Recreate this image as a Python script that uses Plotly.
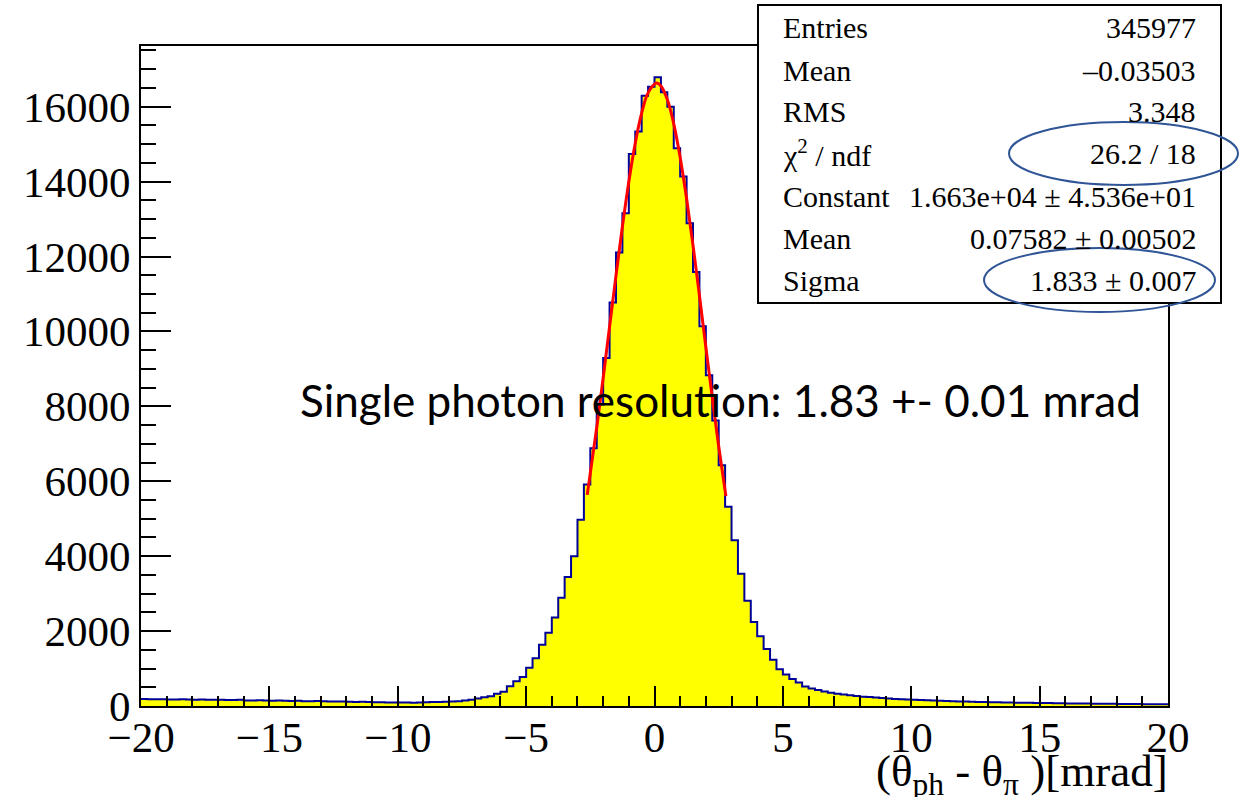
import plotly.graph_objects as go

# ---------------- data ----------------
x_min, x_max, bin_width = -20.0, 20.0, 0.25

# counts per 0.25-mrad bin
left_tail = [185, 180, 178, 182, 176, 172, 178, 174, 170, 175, 168, 165,
             170, 162, 158, 165, 150, 145, 155, 148, 140, 145, 138, 135,
             138, 130, 128, 132, 125, 122, 118, 120, 115, 110, 112, 105,
             100, 98, 95, 92, 95, 92, 90, 93, 100, 105, 108, 112,
             120, 130, 145, 165]                      # -20 .. -7
left_core = [197, 232, 258, 330, 382, 525, 663, 773, 1024, 1277, 1636, 1957,
             2365, 2890, 3445, 4000, 4970, 5912, 6880, 8050, 9290, 10775,
             12108, 13158, 14740, 15335, 16295, 16535]  # -7 .. 0
right_core = [16785, 16385, 16000, 14890, 14135, 12890, 11585, 10135, 8830,
              7620, 6430, 5320, 4425, 3530, 2810, 2245, 1865, 1520, 1235,
              980, 838, 720, 625, 518, 465, 424, 385, 355, 330]  # 0 .. 7.25
right_tail = [310, 290, 270, 250, 238, 225, 212, 200, 190, 182, 175,
              168, 160, 152, 146, 140, 134, 128, 122, 118, 114, 110, 106,
              102, 99, 96, 93, 90, 88, 85, 82, 80, 77, 74, 72,
              70, 68, 66, 64, 62, 60, 58, 57, 56, 54, 52, 51,
              50, 48, 47, 46]                         # 7.25 .. 20

# Gaussian fit curve points
fit_x = [-2.62, -2.25, -2.0, -1.75, -1.5, -1.25, -1.0, -0.75, -0.5, -0.25,
         0.076, 0.25, 0.5, 0.75, 1.0, 1.25, 1.5, 1.75, 2.0, 2.25, 2.5, 2.78]
fit_y = [5637, 7435, 8757, 10126, 11491, 12802, 13998, 15025, 15828, 16369,
         16630, 16555, 16191, 15542, 14646, 13547, 12298, 10959, 9585, 8232,
         6936, 5603]

stat_labels = ["Entries", "Mean", "RMS", "χ<sup>2</sup> / ndf", "Constant",
               "Mean", "Sigma"]
stat_values = ["345977", "–0.03503", "3.348", "26.2 / 18",
               "1.663e+04 ± 4.536e+01", "0.07582 ± 0.00502", "1.833 ± 0.007"]

x_ticks = [-20, -15, -10, -5, 0, 5, 10, 15, 20]
x_tick_text = ["−20", "−15", "−10", "−5", "0", "5", "10", "15", "20"]
y_ticks = [0, 2000, 4000, 6000, 8000, 10000, 12000, 14000, 16000]
y_tick_text = ["0", "2000", "4000", "6000", "8000", "10000", "12000",
               "14000", "16000"]

counts = left_tail + left_core + right_core + right_tail
n_bins = len(counts)
edges = [x_min + bin_width * i for i in range(n_bins + 1)]

# ---------------- layout helpers (pixel -> paper) ----------------
W, H = 1243, 797
L, R, T, B = 141, 1168, 46, 706


def px(x):
    return (x - L) / (R - L)


def py(y):
    return (B - y) / (B - T)


fig = go.Figure()
fig.add_trace(go.Scatter(
    x=edges, y=counts + [counts[-1]], mode="lines", line_shape="hv",
    line=dict(color="#000099", width=2), fill="tozeroy",
    fillcolor="#FFFF00", hoverinfo="skip", showlegend=False))
fig.add_trace(go.Scatter(
    x=fit_x, y=fit_y, mode="lines", line_shape="spline",
    line=dict(color="#FF0000", width=3), showlegend=False))

serif = "Liberation Serif"
fig.update_xaxes(range=[x_min, x_max], tickvals=x_ticks, ticktext=x_tick_text,
                 ticks="inside", ticklen=20, tickwidth=1.5, tickcolor="black",
                 minor=dict(dtick=1, ticks="inside", ticklen=10,
                            tickwidth=1.5, tickcolor="black"),
                 showline=True, linecolor="black", linewidth=2, mirror=True,
                 showgrid=False, zeroline=False, automargin=False,
                 ticklabelstandoff=-8,
                 tickfont=dict(family=serif, size=43, color="black"))
fig.update_yaxes(range=[0, 17620], tickvals=y_ticks, ticktext=y_tick_text,
                 ticks="inside", ticklen=30, tickwidth=1.5, tickcolor="black",
                 minor=dict(dtick=500, ticks="inside", ticklen=15,
                            tickwidth=1.5, tickcolor="black"),
                 showline=True, linecolor="black", linewidth=2, mirror=True,
                 showgrid=False, zeroline=False, automargin=False,
                 tickfont=dict(family=serif, size=43, color="black"))

shapes = [
    dict(type="rect", xref="paper", yref="paper",
         x0=px(758), x1=px(1221), y0=py(303), y1=py(5),
         line=dict(color="black", width=2), fillcolor="white", layer="above"),
    dict(type="circle", xref="paper", yref="paper",
         x0=px(1009), x1=px(1238), y0=py(185), y1=py(122),
         line=dict(color="#2F5597", width=2), layer="above"),
    dict(type="circle", xref="paper", yref="paper",
         x0=px(984), x1=px(1215), y0=py(312), y1=py(248),
         line=dict(color="#2F5597", width=2), layer="above"),
]

annotations = []
row_y = [28, 70, 112, 153, 197, 238, 280]
for lab, val, yy in zip(stat_labels, stat_values, row_y):
    annotations.append(dict(xref="paper", yref="paper", x=px(781), y=py(yy),
                            text=lab, showarrow=False, xanchor="left",
                            yanchor="middle",
                            font=dict(family=serif, size=30, color="black")))
    annotations.append(dict(xref="paper", yref="paper", x=px(1198), y=py(yy),
                            text=val, showarrow=False, xanchor="right",
                            yanchor="middle",
                            font=dict(family=serif, size=30, color="black")))

annotations.append(dict(xref="paper", yref="paper", x=px(298), y=py(400),
                        text="Single photon resolution: 1.83 +- 0.01 mrad",
                        showarrow=False, xanchor="left", yanchor="middle",
                        font=dict(family="Lato", size=44, color="black")))
annotations.append(dict(xref="paper", yref="paper", x=px(1170), y=py(774),
                        text="(θ<sub>ph</sub> - θ<sub>π</sub> )[mrad]",
                        showarrow=False, xanchor="right", yanchor="middle",
                        font=dict(family=serif, size=45, color="black")))

fig.update_layout(width=W, height=H,
                  margin=dict(l=L, r=W - R, t=T, b=H - B),
                  paper_bgcolor="white", plot_bgcolor="white",
                  shapes=shapes, annotations=annotations, showlegend=False)

fig.write_html("out.html", config={"displayModeBar": False},
               post_script="document.body.style.margin='0';"
                           "document.body.style.padding='0';")
